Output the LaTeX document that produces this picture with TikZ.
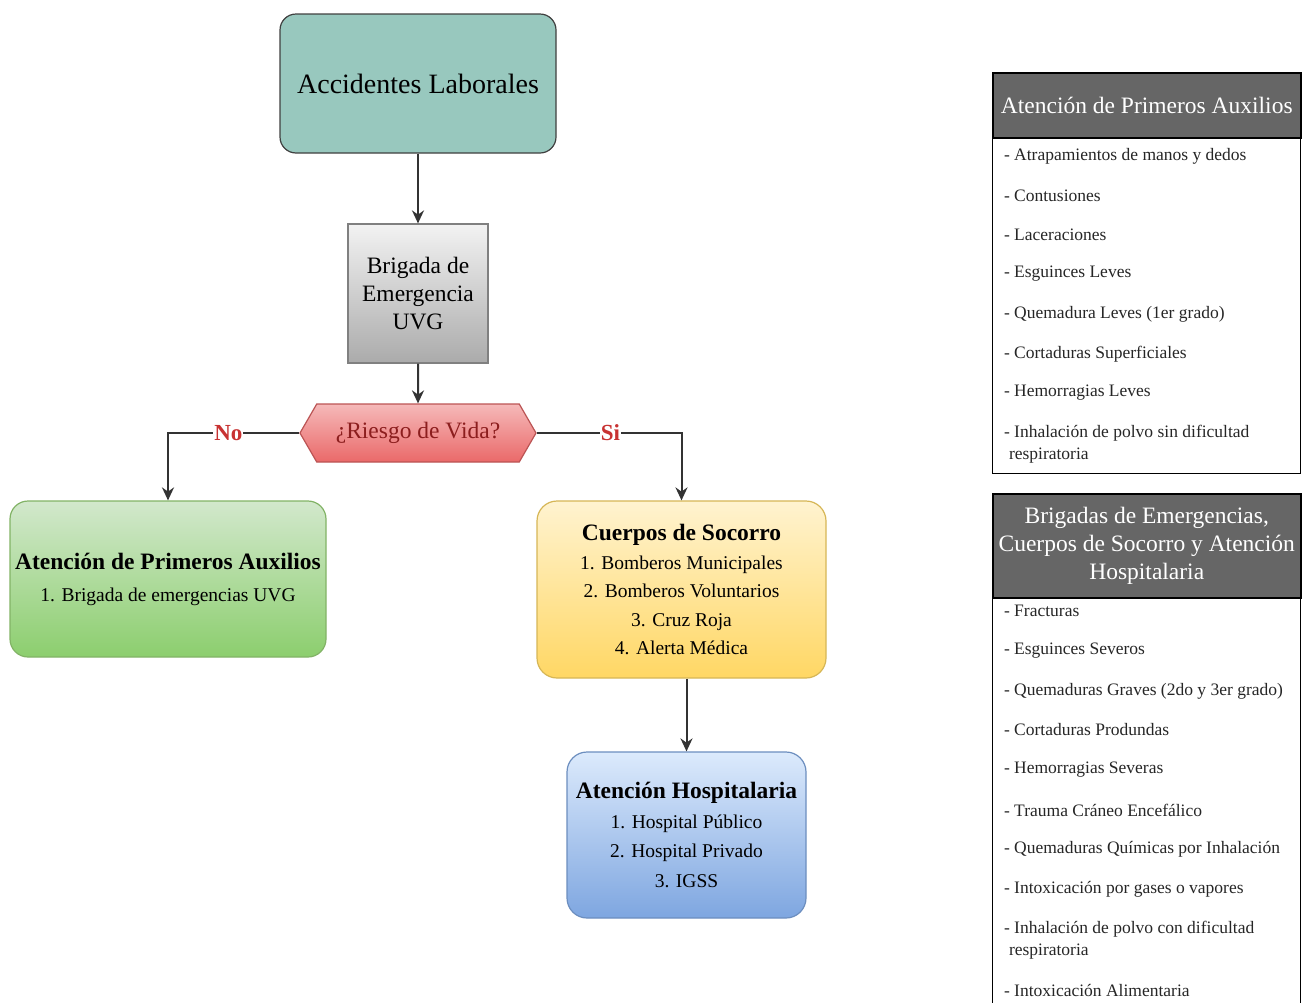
\documentclass[tikz,border=0pt]{standalone}
\usepackage{fontspec}
\setmainfont{Liberation Serif}
\usetikzlibrary{%
  arrows,%
  arrows.meta,%
  shapes,% wg. signal
  positioning,%
  calc%
}
\definecolor{accid}{RGB}{152,200,190}
\definecolor{rojotxt}{RGB}{140,30,30}
\definecolor{rojolbl}{RGB}{200,50,50}
\definecolor{verdea}{RGB}{210,232,204}
\definecolor{verdeb}{RGB}{140,206,110}
\definecolor{verdel}{RGB}{130,179,102}
\definecolor{amarilloa}{RGB}{255,243,208}
\definecolor{amarillob}{RGB}{255,215,100}
\definecolor{amarillol}{RGB}{214,182,86}
\definecolor{azula}{RGB}{220,234,252}
\definecolor{azulb}{RGB}{126,166,224}
\definecolor{azull}{RGB}{108,142,191}
\definecolor{rosaa}{RGB}{245,185,185}
\definecolor{rosab}{RGB}{234,105,105}

\begin{document}
\begin{tikzpicture}[
  x=1pt, y=-1pt,
  >={Stealth[length=13pt,width=12pt]},
  line width=2pt,
  caja/.style={rounded corners=18pt, line width=1.2pt, inner sep=0pt, align=center},
  flecha/.style={->, draw=black!80, line width=2pt},
  rotulo/.style={fill=white, text=rojolbl, inner sep=1pt, font=\fontsize{23}{26}\selectfont\bfseries},
  encabezado/.style={draw=black, line width=1.5pt, fill=black!60, text=white, inner sep=0pt,
    align=center, anchor=north west, minimum width=308},
  tabla/.style={draw=black, line width=1.2pt, inner sep=0pt, anchor=north west, minimum width=308},
  item/.style={anchor=west, inner sep=0pt, align=left, text=black!85, font=\fontsize{17.5}{22}\selectfont},
]
\useasboundingbox (0,0) rectangle (1302,1002);
\clip (0,0) rectangle (1302,1002);

% flujo
\node[caja, rounded corners=16pt, draw=black!75, fill=accid, minimum width=276, minimum height=139,
  font=\fontsize{28}{30}\selectfont] (accid) at (418,83.5) {Accidentes Laborales};
\node[draw=black!50, line width=1.2pt, top color=black!5, bottom color=black!33, inner sep=0pt,
  minimum width=140, minimum height=139, align=center,
  font=\fontsize{23.5}{28}\selectfont] (brig) at (418,293.5) {Brigada de\\Emergencia\\UVG};
\node[signal, signal to=west and east, signal pointer angle=120, draw=rosab!80!black,
  line width=1.2pt, top color=rosaa, bottom color=rosab, inner sep=0pt,
  minimum width=236, minimum height=58, text=rojotxt,
  font=\fontsize{23.5}{26}\selectfont] (riesgo) at (418,433) {¿Riesgo de Vida?};

\node[caja, draw=verdel, top color=verdea, bottom color=verdeb,
  minimum width=316, minimum height=156,
  font=\fontsize{19.5}{32}\selectfont] (prim) at (168,579)
  {{\fontsize{23.5}{26}\selectfont\bfseries Atención de Primeros Auxilios}\\1. Brigada de emergencias UVG};
\node[caja, rounded corners=20pt, draw=amarillol, top color=amarilloa, bottom color=amarillob,
  minimum width=289, minimum height=177,
  font=\fontsize{19.5}{28.5}\selectfont] (socorro) at (681.5,589.5)
  {{\fontsize{23.5}{26}\selectfont\bfseries Cuerpos de Socorro}\\1. Bomberos Municipales\\2. Bomberos Voluntarios\\3. Cruz Roja\\4. Alerta Médica};
\node[caja, rounded corners=20pt, draw=azull, top color=azula, bottom color=azulb,
  minimum width=239, minimum height=166,
  font=\fontsize{19.5}{29.5}\selectfont] (hosp) at (686.5,835)
  {{\fontsize{23.5}{26}\selectfont\bfseries Atención Hospitalaria}\\1. Hospital Público\\2. Hospital Privado\\3. IGSS};

\draw[flecha] (accid) -- (brig);
\draw[flecha] (brig) -- (riesgo);
\draw[flecha] (riesgo.west) -| node[rotulo, pos=0.27] {No} (prim.north);
\draw[flecha] (riesgo.east) -| node[rotulo, pos=0.255] {Si} (socorro.north);
\draw[flecha] (socorro.south -| hosp.north) -- (hosp.north);

% tablas
\node[tabla, minimum height=336] (cuerpo1) at (992,137) {};
\node[encabezado, minimum height=65, font=\fontsize{23.5}{28}\selectfont] (enc1) at (992,72)
  {Atención de Primeros Auxilios};
\foreach \y/\t in {156/{- Atrapamientos de manos y dedos},196/{- Contusiones},
  235/{- Laceraciones},274/{- Esguinces Leves},314/{- Quemadura Leves (1er grado)},
  354/{- Cortaduras Superficiales},393/{- Hemorragias Leves},
  444/{- Inhalación de polvo sin dificultad\\\hspace*{5pt}respiratoria}} {
  \node[item] (a\y) at (1003,\y) {\t};
}

\node[tabla, minimum height=420] (cuerpo2) at (992,597) {};
\node[encabezado, minimum height=104, font=\fontsize{23.5}{28}\selectfont] (enc2) at (992,493)
  {Brigadas de Emergencias,\\Cuerpos de Socorro y Atención\\Hospitalaria};
\foreach \y/\t in {611/{- Fracturas},651/{- Esguinces Severos},
  691/{- Quemaduras Graves (2do y 3er grado)},730/{- Cortaduras Produndas},
  770/{- Hemorragias Severas},810/{- Trauma Cráneo Encefálico},
  849/{- Quemaduras Químicas por Inhalación},889/{- Intoxicación por gases o vapores},
  940/{- Inhalación de polvo con dificultad\\\hspace*{5pt}respiratoria},
  990/{- Intoxicación Alimentaria}} {
  \node[item] (b\y) at (1003,\y) {\t};
}

\end{tikzpicture}
\end{document}
